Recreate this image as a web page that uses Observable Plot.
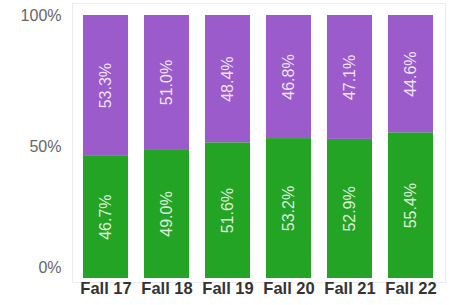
<!DOCTYPE html>
<html>
<head>
<meta charset="utf-8">
<script src="https://cdn.jsdelivr.net/npm/d3@7"></script>
<script src="https://cdn.jsdelivr.net/npm/@observablehq/plot@0.6"></script>
<style>
  html, body { margin: 0; padding: 0; background: #fff; }
  #chart svg { display: block; }
</style>
</head>
<body>
<div id="chart"></div>
<script>
const terms = ["Fall 17", "Fall 18", "Fall 19", "Fall 20", "Fall 21", "Fall 22"];
const lowerValues = [46.7, 49.0, 51.6, 53.2, 52.9, 55.4];
const upperValues = [53.3, 51.0, 48.4, 46.8, 47.1, 44.6];
const seriesNames = ["Lower share", "Upper share"];
const seriesColors = ["#24a424", "#9b5bcb"];

const rows = [];
terms.forEach((t, i) => {
  rows.push({term: t, series: seriesNames[0], value: lowerValues[i]});
  rows.push({term: t, series: seriesNames[1], value: upperValues[i]});
});

const stackOpts = {x: "term", y: "value", z: "series", order: seriesNames};

const chart = Plot.plot({
  width: 452,
  height: 305,
  marginLeft: 72,
  marginRight: 7,
  marginTop: 15,
  marginBottom: 27,
  style: {fontFamily: "Arial, 'Liberation Sans', sans-serif", background: "#fff"},
  x: {domain: terms, paddingInner: 0.26, paddingOuter: 0.14, label: null},
  y: {domain: [0, 100], label: null},
  color: {type: "ordinal", domain: seriesNames, range: seriesColors},
  marks: [
    Plot.frame({stroke: "#ececec", insetTop: -12, insetBottom: -4}),
    Plot.barY(rows, Plot.stackY({...stackOpts, fill: "series"})),
    Plot.text(rows, Plot.stackY({
      ...stackOpts,
      text: d => d.value.toFixed(1) + "%",
      rotate: -90,
      fill: "#ffffff",
      fillOpacity: 0.85,
      fontSize: 16
    })),
    Plot.axisX({tickSize: 0, tickPadding: 4, fontSize: 16.5, fontWeight: "bold", fill: "#333"}),
    Plot.axisY({ticks: [50, 100], tickFormat: d => d + "%", tickSize: 0, tickPadding: 11, fontSize: 16, fill: "#666"}),
    Plot.axisY({ticks: [0], tickFormat: d => d + "%", tickSize: 0, tickPadding: 11, dy: -11, fontSize: 16, fill: "#666"})
  ]
});
document.getElementById("chart").appendChild(chart);
</script>
</body>
</html>
